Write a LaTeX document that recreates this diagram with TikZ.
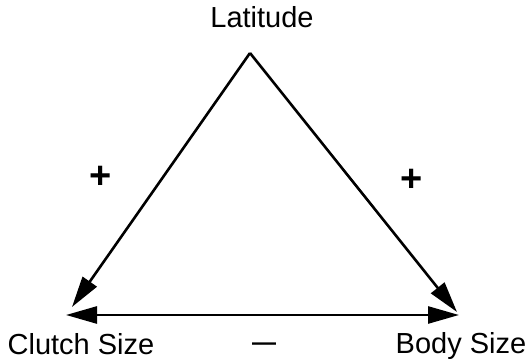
\documentclass[tikz,border=0pt]{standalone}
\usepackage{fontspec}
\setmainfont{Liberation Sans}
\usetikzlibrary{arrows.meta}
\begin{document}
\begin{tikzpicture}[x=1pt,y=-1pt,
  lbl/.style={font=\fontsize{29}{32}\selectfont, anchor=base, inner sep=0pt},
  sign/.style={font=\fontsize{38}{38}\selectfont\bfseries, inner sep=0pt},
  conn/.style={line width=2.6pt, -{Triangle[length=31pt,width=17pt]}},
  conn2/.style={line width=2.6pt, {Triangle[length=31pt,width=17pt]}-{Triangle[length=31pt,width=17pt]}}]
\useasboundingbox (0,0) rectangle (528,363);
\node[lbl] (lat) at (262,28) {Latitude};
\node[lbl] (clutch) at (81,355) {Clutch Size};
\node[lbl] (body) at (461,354) {Body Size};
\coordinate (apex) at (250,53);
\coordinate (cltip) at (72,307);
\coordinate (bdtip) at (457,312);
\coordinate (hl) at (66,315);
\coordinate (hr) at (459,315);
\draw[conn, line join=miter] (apex) -- (cltip);
\draw[conn] (apex) -- (bdtip);
\draw[conn2] (hl) -- (hr);
\node[sign] (p1) at (101,177) {+};
\node[sign] (p2) at (412,180) {+};
\node[font=\fontsize{24}{28}\selectfont\bfseries, inner sep=0pt, anchor=center] (minus) at (264,350) {\raisebox{0.3em}{—}};
\end{tikzpicture}
\end{document}
